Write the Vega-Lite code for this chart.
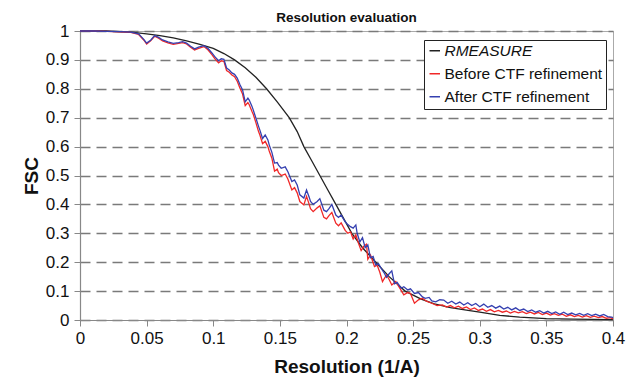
{
  "$schema": "https://vega.github.io/schema/vega-lite/v6.json",
  "width": 533,
  "height": 289,
  "autosize": {"type": "none"},
  "padding": {"left": 80, "top": 31, "right": 24, "bottom": 64},
  "background": "white",
  "config": {
    "font": "Liberation Sans",
    "view": {"stroke": "#aaaaaa", "strokeWidth": 1}
  },
  "title": {"text": "Resolution evaluation", "fontSize": 13.5, "fontWeight": "bold", "font": "Liberation Sans", "color": "#111", "offset": -2},
  "data": {"values": [
    {"series": "RMEASURE", "res": 0.0, "fsc": 1.0},
    {"series": "RMEASURE", "res": 0.02, "fsc": 1.0},
    {"series": "RMEASURE", "res": 0.04, "fsc": 0.995},
    {"series": "RMEASURE", "res": 0.05, "fsc": 0.99},
    {"series": "RMEASURE", "res": 0.06, "fsc": 0.984},
    {"series": "RMEASURE", "res": 0.07, "fsc": 0.976},
    {"series": "RMEASURE", "res": 0.08, "fsc": 0.966},
    {"series": "RMEASURE", "res": 0.09, "fsc": 0.954},
    {"series": "RMEASURE", "res": 0.1, "fsc": 0.94},
    {"series": "RMEASURE", "res": 0.108, "fsc": 0.922},
    {"series": "RMEASURE", "res": 0.116, "fsc": 0.9},
    {"series": "RMEASURE", "res": 0.124, "fsc": 0.873},
    {"series": "RMEASURE", "res": 0.132, "fsc": 0.84},
    {"series": "RMEASURE", "res": 0.14, "fsc": 0.8},
    {"series": "RMEASURE", "res": 0.148, "fsc": 0.755},
    {"series": "RMEASURE", "res": 0.157, "fsc": 0.7},
    {"series": "RMEASURE", "res": 0.163, "fsc": 0.652},
    {"series": "RMEASURE", "res": 0.168, "fsc": 0.6},
    {"series": "RMEASURE", "res": 0.174, "fsc": 0.55},
    {"series": "RMEASURE", "res": 0.18, "fsc": 0.5},
    {"series": "RMEASURE", "res": 0.186, "fsc": 0.45},
    {"series": "RMEASURE", "res": 0.192, "fsc": 0.4},
    {"series": "RMEASURE", "res": 0.198, "fsc": 0.35},
    {"series": "RMEASURE", "res": 0.204, "fsc": 0.3},
    {"series": "RMEASURE", "res": 0.212, "fsc": 0.25},
    {"series": "RMEASURE", "res": 0.222, "fsc": 0.2},
    {"series": "RMEASURE", "res": 0.232, "fsc": 0.15},
    {"series": "RMEASURE", "res": 0.244, "fsc": 0.1},
    {"series": "RMEASURE", "res": 0.256, "fsc": 0.072},
    {"series": "RMEASURE", "res": 0.266, "fsc": 0.056},
    {"series": "RMEASURE", "res": 0.278, "fsc": 0.043},
    {"series": "RMEASURE", "res": 0.29, "fsc": 0.034},
    {"series": "RMEASURE", "res": 0.3, "fsc": 0.027},
    {"series": "RMEASURE", "res": 0.315, "fsc": 0.016},
    {"series": "RMEASURE", "res": 0.33, "fsc": 0.01},
    {"series": "RMEASURE", "res": 0.35, "fsc": 0.005},
    {"series": "RMEASURE", "res": 0.37, "fsc": 0.003},
    {"series": "RMEASURE", "res": 0.4, "fsc": 0.001},

    {"series": "Before CTF refinement", "res": 0.0, "fsc": 1.0},
    {"series": "Before CTF refinement", "res": 0.01, "fsc": 1.0},
    {"series": "Before CTF refinement", "res": 0.02, "fsc": 0.999},
    {"series": "Before CTF refinement", "res": 0.03, "fsc": 0.997},
    {"series": "Before CTF refinement", "res": 0.038, "fsc": 0.995},
    {"series": "Before CTF refinement", "res": 0.044, "fsc": 0.988},
    {"series": "Before CTF refinement", "res": 0.048, "fsc": 0.968},
    {"series": "Before CTF refinement", "res": 0.05, "fsc": 0.955},
    {"series": "Before CTF refinement", "res": 0.053, "fsc": 0.966},
    {"series": "Before CTF refinement", "res": 0.056, "fsc": 0.982},
    {"series": "Before CTF refinement", "res": 0.059, "fsc": 0.975},
    {"series": "Before CTF refinement", "res": 0.062, "fsc": 0.966},
    {"series": "Before CTF refinement", "res": 0.066, "fsc": 0.959},
    {"series": "Before CTF refinement", "res": 0.07, "fsc": 0.954},
    {"series": "Before CTF refinement", "res": 0.074, "fsc": 0.957},
    {"series": "Before CTF refinement", "res": 0.077, "fsc": 0.96},
    {"series": "Before CTF refinement", "res": 0.08, "fsc": 0.955},
    {"series": "Before CTF refinement", "res": 0.083, "fsc": 0.944},
    {"series": "Before CTF refinement", "res": 0.086, "fsc": 0.934},
    {"series": "Before CTF refinement", "res": 0.089, "fsc": 0.94},
    {"series": "Before CTF refinement", "res": 0.093, "fsc": 0.946},
    {"series": "Before CTF refinement", "res": 0.096, "fsc": 0.935},
    {"series": "Before CTF refinement", "res": 0.099, "fsc": 0.918},
    {"series": "Before CTF refinement", "res": 0.101, "fsc": 0.905},
    {"series": "Before CTF refinement", "res": 0.104, "fsc": 0.89},
    {"series": "Before CTF refinement", "res": 0.106, "fsc": 0.897},
    {"series": "Before CTF refinement", "res": 0.108, "fsc": 0.895},
    {"series": "Before CTF refinement", "res": 0.11, "fsc": 0.863},
    {"series": "Before CTF refinement", "res": 0.112, "fsc": 0.857},
    {"series": "Before CTF refinement", "res": 0.114, "fsc": 0.848},
    {"series": "Before CTF refinement", "res": 0.116, "fsc": 0.842},
    {"series": "Before CTF refinement", "res": 0.118, "fsc": 0.826},
    {"series": "Before CTF refinement", "res": 0.12, "fsc": 0.803},
    {"series": "Before CTF refinement", "res": 0.122, "fsc": 0.782},
    {"series": "Before CTF refinement", "res": 0.124, "fsc": 0.742},
    {"series": "Before CTF refinement", "res": 0.126, "fsc": 0.752},
    {"series": "Before CTF refinement", "res": 0.127, "fsc": 0.745},
    {"series": "Before CTF refinement", "res": 0.129, "fsc": 0.722},
    {"series": "Before CTF refinement", "res": 0.13, "fsc": 0.712},
    {"series": "Before CTF refinement", "res": 0.132, "fsc": 0.683},
    {"series": "Before CTF refinement", "res": 0.134, "fsc": 0.652},
    {"series": "Before CTF refinement", "res": 0.135, "fsc": 0.64},
    {"series": "Before CTF refinement", "res": 0.137, "fsc": 0.61},
    {"series": "Before CTF refinement", "res": 0.139, "fsc": 0.618},
    {"series": "Before CTF refinement", "res": 0.141, "fsc": 0.6},
    {"series": "Before CTF refinement", "res": 0.142, "fsc": 0.585},
    {"series": "Before CTF refinement", "res": 0.144, "fsc": 0.56},
    {"series": "Before CTF refinement", "res": 0.146, "fsc": 0.515},
    {"series": "Before CTF refinement", "res": 0.148, "fsc": 0.522},
    {"series": "Before CTF refinement", "res": 0.149, "fsc": 0.51},
    {"series": "Before CTF refinement", "res": 0.151, "fsc": 0.5},
    {"series": "Before CTF refinement", "res": 0.154, "fsc": 0.505},
    {"series": "Before CTF refinement", "res": 0.156, "fsc": 0.488},
    {"series": "Before CTF refinement", "res": 0.159, "fsc": 0.45},
    {"series": "Before CTF refinement", "res": 0.161, "fsc": 0.458},
    {"series": "Before CTF refinement", "res": 0.163, "fsc": 0.44},
    {"series": "Before CTF refinement", "res": 0.165, "fsc": 0.41},
    {"series": "Before CTF refinement", "res": 0.168, "fsc": 0.398},
    {"series": "Before CTF refinement", "res": 0.17, "fsc": 0.428},
    {"series": "Before CTF refinement", "res": 0.172, "fsc": 0.4},
    {"series": "Before CTF refinement", "res": 0.173, "fsc": 0.385},
    {"series": "Before CTF refinement", "res": 0.175, "fsc": 0.375},
    {"series": "Before CTF refinement", "res": 0.178, "fsc": 0.388},
    {"series": "Before CTF refinement", "res": 0.18, "fsc": 0.395},
    {"series": "Before CTF refinement", "res": 0.183, "fsc": 0.355},
    {"series": "Before CTF refinement", "res": 0.185, "fsc": 0.35},
    {"series": "Before CTF refinement", "res": 0.187, "fsc": 0.362},
    {"series": "Before CTF refinement", "res": 0.189, "fsc": 0.372},
    {"series": "Before CTF refinement", "res": 0.192, "fsc": 0.335},
    {"series": "Before CTF refinement", "res": 0.194, "fsc": 0.326},
    {"series": "Before CTF refinement", "res": 0.196, "fsc": 0.336},
    {"series": "Before CTF refinement", "res": 0.199, "fsc": 0.31},
    {"series": "Before CTF refinement", "res": 0.201, "fsc": 0.3},
    {"series": "Before CTF refinement", "res": 0.203, "fsc": 0.305},
    {"series": "Before CTF refinement", "res": 0.205, "fsc": 0.28},
    {"series": "Before CTF refinement", "res": 0.207, "fsc": 0.295},
    {"series": "Before CTF refinement", "res": 0.209, "fsc": 0.265},
    {"series": "Before CTF refinement", "res": 0.211, "fsc": 0.24},
    {"series": "Before CTF refinement", "res": 0.213, "fsc": 0.255},
    {"series": "Before CTF refinement", "res": 0.215, "fsc": 0.262},
    {"series": "Before CTF refinement", "res": 0.216, "fsc": 0.21},
    {"series": "Before CTF refinement", "res": 0.218, "fsc": 0.225},
    {"series": "Before CTF refinement", "res": 0.221, "fsc": 0.185},
    {"series": "Before CTF refinement", "res": 0.223, "fsc": 0.19},
    {"series": "Before CTF refinement", "res": 0.225, "fsc": 0.165},
    {"series": "Before CTF refinement", "res": 0.227, "fsc": 0.133},
    {"series": "Before CTF refinement", "res": 0.23, "fsc": 0.156},
    {"series": "Before CTF refinement", "res": 0.232, "fsc": 0.14},
    {"series": "Before CTF refinement", "res": 0.234, "fsc": 0.121},
    {"series": "Before CTF refinement", "res": 0.237, "fsc": 0.133},
    {"series": "Before CTF refinement", "res": 0.24, "fsc": 0.11},
    {"series": "Before CTF refinement", "res": 0.243, "fsc": 0.087},
    {"series": "Before CTF refinement", "res": 0.246, "fsc": 0.095},
    {"series": "Before CTF refinement", "res": 0.248, "fsc": 0.092},
    {"series": "Before CTF refinement", "res": 0.251, "fsc": 0.058},
    {"series": "Before CTF refinement", "res": 0.254, "fsc": 0.07},
    {"series": "Before CTF refinement", "res": 0.257, "fsc": 0.075},
    {"series": "Before CTF refinement", "res": 0.26, "fsc": 0.065},
    {"series": "Before CTF refinement", "res": 0.264, "fsc": 0.058},
    {"series": "Before CTF refinement", "res": 0.268, "fsc": 0.05},
    {"series": "Before CTF refinement", "res": 0.272, "fsc": 0.052},
    {"series": "Before CTF refinement", "res": 0.275, "fsc": 0.045},
    {"series": "Before CTF refinement", "res": 0.278, "fsc": 0.05},
    {"series": "Before CTF refinement", "res": 0.281, "fsc": 0.042},
    {"series": "Before CTF refinement", "res": 0.284, "fsc": 0.048},
    {"series": "Before CTF refinement", "res": 0.287, "fsc": 0.04},
    {"series": "Before CTF refinement", "res": 0.29, "fsc": 0.045},
    {"series": "Before CTF refinement", "res": 0.293, "fsc": 0.036},
    {"series": "Before CTF refinement", "res": 0.296, "fsc": 0.042},
    {"series": "Before CTF refinement", "res": 0.299, "fsc": 0.033},
    {"series": "Before CTF refinement", "res": 0.302, "fsc": 0.038},
    {"series": "Before CTF refinement", "res": 0.305, "fsc": 0.03},
    {"series": "Before CTF refinement", "res": 0.308, "fsc": 0.036},
    {"series": "Before CTF refinement", "res": 0.311, "fsc": 0.028},
    {"series": "Before CTF refinement", "res": 0.314, "fsc": 0.033},
    {"series": "Before CTF refinement", "res": 0.317, "fsc": 0.027},
    {"series": "Before CTF refinement", "res": 0.32, "fsc": 0.031},
    {"series": "Before CTF refinement", "res": 0.323, "fsc": 0.024},
    {"series": "Before CTF refinement", "res": 0.326, "fsc": 0.03},
    {"series": "Before CTF refinement", "res": 0.329, "fsc": 0.025},
    {"series": "Before CTF refinement", "res": 0.332, "fsc": 0.029},
    {"series": "Before CTF refinement", "res": 0.335, "fsc": 0.022},
    {"series": "Before CTF refinement", "res": 0.338, "fsc": 0.027},
    {"series": "Before CTF refinement", "res": 0.341, "fsc": 0.021},
    {"series": "Before CTF refinement", "res": 0.344, "fsc": 0.026},
    {"series": "Before CTF refinement", "res": 0.347, "fsc": 0.019},
    {"series": "Before CTF refinement", "res": 0.35, "fsc": 0.024},
    {"series": "Before CTF refinement", "res": 0.353, "fsc": 0.017},
    {"series": "Before CTF refinement", "res": 0.356, "fsc": 0.022},
    {"series": "Before CTF refinement", "res": 0.359, "fsc": 0.016},
    {"series": "Before CTF refinement", "res": 0.362, "fsc": 0.02},
    {"series": "Before CTF refinement", "res": 0.365, "fsc": 0.013},
    {"series": "Before CTF refinement", "res": 0.368, "fsc": 0.018},
    {"series": "Before CTF refinement", "res": 0.371, "fsc": 0.012},
    {"series": "Before CTF refinement", "res": 0.374, "fsc": 0.016},
    {"series": "Before CTF refinement", "res": 0.377, "fsc": 0.01},
    {"series": "Before CTF refinement", "res": 0.38, "fsc": 0.015},
    {"series": "Before CTF refinement", "res": 0.383, "fsc": 0.009},
    {"series": "Before CTF refinement", "res": 0.386, "fsc": 0.013},
    {"series": "Before CTF refinement", "res": 0.389, "fsc": 0.008},
    {"series": "Before CTF refinement", "res": 0.392, "fsc": 0.012},
    {"series": "Before CTF refinement", "res": 0.395, "fsc": 0.006},
    {"series": "Before CTF refinement", "res": 0.398, "fsc": 0.008},
    {"series": "Before CTF refinement", "res": 0.4, "fsc": 0.004},

    {"series": "After CTF refinement", "res": 0.0, "fsc": 1.0},
    {"series": "After CTF refinement", "res": 0.01, "fsc": 1.0},
    {"series": "After CTF refinement", "res": 0.02, "fsc": 0.999},
    {"series": "After CTF refinement", "res": 0.03, "fsc": 0.998},
    {"series": "After CTF refinement", "res": 0.038, "fsc": 0.996},
    {"series": "After CTF refinement", "res": 0.044, "fsc": 0.99},
    {"series": "After CTF refinement", "res": 0.048, "fsc": 0.97},
    {"series": "After CTF refinement", "res": 0.05, "fsc": 0.958},
    {"series": "After CTF refinement", "res": 0.053, "fsc": 0.968},
    {"series": "After CTF refinement", "res": 0.056, "fsc": 0.984},
    {"series": "After CTF refinement", "res": 0.059, "fsc": 0.978},
    {"series": "After CTF refinement", "res": 0.062, "fsc": 0.969},
    {"series": "After CTF refinement", "res": 0.066, "fsc": 0.962},
    {"series": "After CTF refinement", "res": 0.07, "fsc": 0.957},
    {"series": "After CTF refinement", "res": 0.074, "fsc": 0.96},
    {"series": "After CTF refinement", "res": 0.077, "fsc": 0.963},
    {"series": "After CTF refinement", "res": 0.08, "fsc": 0.958},
    {"series": "After CTF refinement", "res": 0.083, "fsc": 0.947},
    {"series": "After CTF refinement", "res": 0.086, "fsc": 0.938},
    {"series": "After CTF refinement", "res": 0.089, "fsc": 0.944},
    {"series": "After CTF refinement", "res": 0.093, "fsc": 0.949},
    {"series": "After CTF refinement", "res": 0.096, "fsc": 0.94},
    {"series": "After CTF refinement", "res": 0.099, "fsc": 0.924},
    {"series": "After CTF refinement", "res": 0.101, "fsc": 0.912},
    {"series": "After CTF refinement", "res": 0.104, "fsc": 0.897},
    {"series": "After CTF refinement", "res": 0.106, "fsc": 0.904},
    {"series": "After CTF refinement", "res": 0.108, "fsc": 0.902},
    {"series": "After CTF refinement", "res": 0.11, "fsc": 0.872},
    {"series": "After CTF refinement", "res": 0.112, "fsc": 0.865},
    {"series": "After CTF refinement", "res": 0.114, "fsc": 0.855},
    {"series": "After CTF refinement", "res": 0.116, "fsc": 0.85},
    {"series": "After CTF refinement", "res": 0.118, "fsc": 0.837},
    {"series": "After CTF refinement", "res": 0.12, "fsc": 0.815},
    {"series": "After CTF refinement", "res": 0.122, "fsc": 0.796},
    {"series": "After CTF refinement", "res": 0.124, "fsc": 0.755},
    {"series": "After CTF refinement", "res": 0.126, "fsc": 0.768},
    {"series": "After CTF refinement", "res": 0.127, "fsc": 0.761},
    {"series": "After CTF refinement", "res": 0.129, "fsc": 0.74},
    {"series": "After CTF refinement", "res": 0.13, "fsc": 0.727},
    {"series": "After CTF refinement", "res": 0.132, "fsc": 0.699},
    {"series": "After CTF refinement", "res": 0.134, "fsc": 0.67},
    {"series": "After CTF refinement", "res": 0.135, "fsc": 0.657},
    {"series": "After CTF refinement", "res": 0.137, "fsc": 0.628},
    {"series": "After CTF refinement", "res": 0.139, "fsc": 0.64},
    {"series": "After CTF refinement", "res": 0.141, "fsc": 0.623},
    {"series": "After CTF refinement", "res": 0.142, "fsc": 0.606},
    {"series": "After CTF refinement", "res": 0.144, "fsc": 0.58},
    {"series": "After CTF refinement", "res": 0.146, "fsc": 0.543},
    {"series": "After CTF refinement", "res": 0.148, "fsc": 0.545},
    {"series": "After CTF refinement", "res": 0.149, "fsc": 0.536},
    {"series": "After CTF refinement", "res": 0.151, "fsc": 0.525},
    {"series": "After CTF refinement", "res": 0.154, "fsc": 0.53},
    {"series": "After CTF refinement", "res": 0.156, "fsc": 0.513},
    {"series": "After CTF refinement", "res": 0.159, "fsc": 0.479},
    {"series": "After CTF refinement", "res": 0.161, "fsc": 0.485},
    {"series": "After CTF refinement", "res": 0.163, "fsc": 0.467},
    {"series": "After CTF refinement", "res": 0.165, "fsc": 0.433},
    {"series": "After CTF refinement", "res": 0.168, "fsc": 0.422},
    {"series": "After CTF refinement", "res": 0.17, "fsc": 0.45},
    {"series": "After CTF refinement", "res": 0.172, "fsc": 0.425},
    {"series": "After CTF refinement", "res": 0.173, "fsc": 0.41},
    {"series": "After CTF refinement", "res": 0.175, "fsc": 0.4},
    {"series": "After CTF refinement", "res": 0.178, "fsc": 0.41},
    {"series": "After CTF refinement", "res": 0.18, "fsc": 0.42},
    {"series": "After CTF refinement", "res": 0.183, "fsc": 0.38},
    {"series": "After CTF refinement", "res": 0.185, "fsc": 0.375},
    {"series": "After CTF refinement", "res": 0.187, "fsc": 0.386},
    {"series": "After CTF refinement", "res": 0.189, "fsc": 0.4},
    {"series": "After CTF refinement", "res": 0.192, "fsc": 0.363},
    {"series": "After CTF refinement", "res": 0.194, "fsc": 0.355},
    {"series": "After CTF refinement", "res": 0.196, "fsc": 0.363},
    {"series": "After CTF refinement", "res": 0.199, "fsc": 0.34},
    {"series": "After CTF refinement", "res": 0.201, "fsc": 0.33},
    {"series": "After CTF refinement", "res": 0.203, "fsc": 0.323},
    {"series": "After CTF refinement", "res": 0.205, "fsc": 0.318},
    {"series": "After CTF refinement", "res": 0.207, "fsc": 0.329},
    {"series": "After CTF refinement", "res": 0.208, "fsc": 0.3},
    {"series": "After CTF refinement", "res": 0.21, "fsc": 0.27},
    {"series": "After CTF refinement", "res": 0.212, "fsc": 0.285},
    {"series": "After CTF refinement", "res": 0.214, "fsc": 0.25},
    {"series": "After CTF refinement", "res": 0.216, "fsc": 0.26},
    {"series": "After CTF refinement", "res": 0.218, "fsc": 0.215},
    {"series": "After CTF refinement", "res": 0.22, "fsc": 0.22},
    {"series": "After CTF refinement", "res": 0.222, "fsc": 0.19},
    {"series": "After CTF refinement", "res": 0.224, "fsc": 0.195},
    {"series": "After CTF refinement", "res": 0.226, "fsc": 0.179},
    {"series": "After CTF refinement", "res": 0.228, "fsc": 0.165},
    {"series": "After CTF refinement", "res": 0.23, "fsc": 0.148},
    {"series": "After CTF refinement", "res": 0.232, "fsc": 0.16},
    {"series": "After CTF refinement", "res": 0.234, "fsc": 0.17},
    {"series": "After CTF refinement", "res": 0.236, "fsc": 0.125},
    {"series": "After CTF refinement", "res": 0.238, "fsc": 0.13},
    {"series": "After CTF refinement", "res": 0.241, "fsc": 0.11},
    {"series": "After CTF refinement", "res": 0.243, "fsc": 0.115},
    {"series": "After CTF refinement", "res": 0.246, "fsc": 0.104},
    {"series": "After CTF refinement", "res": 0.248, "fsc": 0.108},
    {"series": "After CTF refinement", "res": 0.251, "fsc": 0.092},
    {"series": "After CTF refinement", "res": 0.254, "fsc": 0.095},
    {"series": "After CTF refinement", "res": 0.257, "fsc": 0.08},
    {"series": "After CTF refinement", "res": 0.259, "fsc": 0.075},
    {"series": "After CTF refinement", "res": 0.262, "fsc": 0.078},
    {"series": "After CTF refinement", "res": 0.264, "fsc": 0.066},
    {"series": "After CTF refinement", "res": 0.267, "fsc": 0.063},
    {"series": "After CTF refinement", "res": 0.27, "fsc": 0.07},
    {"series": "After CTF refinement", "res": 0.273, "fsc": 0.069},
    {"series": "After CTF refinement", "res": 0.276, "fsc": 0.058},
    {"series": "After CTF refinement", "res": 0.279, "fsc": 0.065},
    {"series": "After CTF refinement", "res": 0.282, "fsc": 0.055},
    {"series": "After CTF refinement", "res": 0.285, "fsc": 0.062},
    {"series": "After CTF refinement", "res": 0.288, "fsc": 0.052},
    {"series": "After CTF refinement", "res": 0.291, "fsc": 0.06},
    {"series": "After CTF refinement", "res": 0.294, "fsc": 0.05},
    {"series": "After CTF refinement", "res": 0.297, "fsc": 0.057},
    {"series": "After CTF refinement", "res": 0.3, "fsc": 0.046},
    {"series": "After CTF refinement", "res": 0.303, "fsc": 0.055},
    {"series": "After CTF refinement", "res": 0.306, "fsc": 0.044},
    {"series": "After CTF refinement", "res": 0.309, "fsc": 0.05},
    {"series": "After CTF refinement", "res": 0.312, "fsc": 0.041},
    {"series": "After CTF refinement", "res": 0.315, "fsc": 0.048},
    {"series": "After CTF refinement", "res": 0.318, "fsc": 0.038},
    {"series": "After CTF refinement", "res": 0.321, "fsc": 0.044},
    {"series": "After CTF refinement", "res": 0.324, "fsc": 0.035},
    {"series": "After CTF refinement", "res": 0.327, "fsc": 0.042},
    {"series": "After CTF refinement", "res": 0.33, "fsc": 0.033},
    {"series": "After CTF refinement", "res": 0.333, "fsc": 0.038},
    {"series": "After CTF refinement", "res": 0.336, "fsc": 0.029},
    {"series": "After CTF refinement", "res": 0.339, "fsc": 0.035},
    {"series": "After CTF refinement", "res": 0.342, "fsc": 0.027},
    {"series": "After CTF refinement", "res": 0.345, "fsc": 0.032},
    {"series": "After CTF refinement", "res": 0.348, "fsc": 0.024},
    {"series": "After CTF refinement", "res": 0.351, "fsc": 0.03},
    {"series": "After CTF refinement", "res": 0.354, "fsc": 0.022},
    {"series": "After CTF refinement", "res": 0.357, "fsc": 0.028},
    {"series": "After CTF refinement", "res": 0.36, "fsc": 0.02},
    {"series": "After CTF refinement", "res": 0.363, "fsc": 0.027},
    {"series": "After CTF refinement", "res": 0.366, "fsc": 0.019},
    {"series": "After CTF refinement", "res": 0.369, "fsc": 0.024},
    {"series": "After CTF refinement", "res": 0.372, "fsc": 0.018},
    {"series": "After CTF refinement", "res": 0.375, "fsc": 0.023},
    {"series": "After CTF refinement", "res": 0.378, "fsc": 0.016},
    {"series": "After CTF refinement", "res": 0.381, "fsc": 0.022},
    {"series": "After CTF refinement", "res": 0.384, "fsc": 0.015},
    {"series": "After CTF refinement", "res": 0.387, "fsc": 0.02},
    {"series": "After CTF refinement", "res": 0.39, "fsc": 0.014},
    {"series": "After CTF refinement", "res": 0.393, "fsc": 0.019},
    {"series": "After CTF refinement", "res": 0.396, "fsc": 0.012},
    {"series": "After CTF refinement", "res": 0.399, "fsc": 0.01},
    {"series": "After CTF refinement", "res": 0.4, "fsc": 0.008}
  ]},
  "mark": {"type": "line", "strokeWidth": 1.3, "interpolate": "linear"},
  "encoding": {
    "x": {
      "field": "res", "type": "quantitative",
      "scale": {"domain": [0, 0.4], "nice": false, "zero": true},
      "axis": {
        "title": "Resolution (1/A)",
        "titleFont": "Liberation Sans", "titleFontSize": 19, "titleFontWeight": "bold", "titleColor": "#111", "titlePadding": 11,
        "values": [0, 0.05, 0.1, 0.15, 0.2, 0.25, 0.3, 0.35, 0.4],
        "format": "~g",
        "labelFont": "Liberation Sans", "labelFontSize": 17, "labelColor": "#111", "labelPadding": 4,
        "labelOverlap": false, "labelFlush": false,
        "grid": false,
        "domainColor": "#888888", "domainWidth": 1.2,
        "tickColor": "#888888", "tickSize": 6, "tickWidth": 1
      }
    },
    "y": {
      "field": "fsc", "type": "quantitative",
      "scale": {"domain": [0, 1], "nice": false},
      "axis": {
        "title": "FSC",
        "titleFont": "Liberation Sans", "titleFontSize": 19, "titleFontWeight": "bold", "titleColor": "#111", "titlePadding": 4,
        "values": [0, 0.1, 0.2, 0.3, 0.4, 0.5, 0.6, 0.7, 0.8, 0.9, 1],
        "format": "~g",
        "labelFont": "Liberation Sans", "labelFontSize": 17, "labelColor": "#111", "labelPadding": 5,
        "labelOverlap": false, "labelFlush": false,
        "grid": true, "gridColor": "#7a7a7a", "gridDash": [10, 6], "gridWidth": 1.3,
        "domainColor": "#888888", "domainWidth": 1.2,
        "tickColor": "#888888", "tickSize": 6, "tickWidth": 1
      }
    },
    "color": {
      "field": "series", "type": "nominal",
      "sort": ["RMEASURE", "Before CTF refinement", "After CTF refinement"],
      "scale": {"domain": ["RMEASURE", "Before CTF refinement", "After CTF refinement"], "range": ["#222222", "#f02828", "#3540b0"]},
      "legend": {
        "title": null,
        "orient": "none", "legendX": 344, "legendY": 9,
        "direction": "vertical",
        "strokeColor": "#222222", "fillColor": "white",
        "padding": 3,
        "symbolType": "stroke", "symbolSize": 110, "symbolStrokeWidth": 1.5,
        "labelFont": "Liberation Sans", "labelFontSize": 15.5, "labelColor": "#111", "labelOffset": 2, "labelLimit": 300,
        "rowPadding": 6,
        "encode": {
          "labels": {"update": {"fontStyle": {"signal": "datum.label == 'RMEASURE' ? 'italic' : 'normal'"}}}
        }
      }
    },
    "order": {"field": "res", "type": "quantitative"}
  }
}
